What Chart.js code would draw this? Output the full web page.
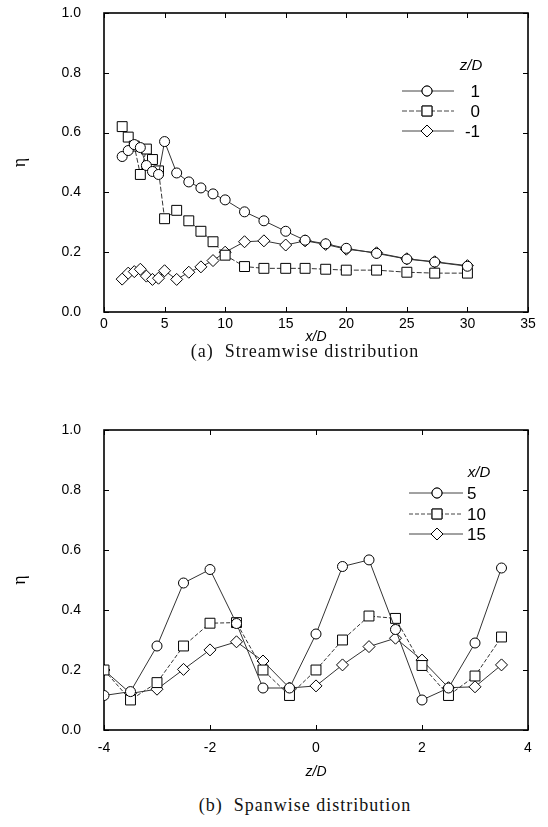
<!DOCTYPE html>
<html><head><meta charset="utf-8">
<script src="https://cdn.jsdelivr.net/npm/chart.js@4.4.1/dist/chart.umd.min.js"></script>
<style>
body{margin:0;background:#fff;width:548px;height:827px;position:relative;overflow:hidden}
#c1{position:absolute;left:0;top:0}
#c2{position:absolute;left:0;top:415px}
.cap{position:absolute;left:0;width:610px;text-align:center;font-family:'Liberation Serif','Times New Roman',serif;font-size:18px;letter-spacing:1px;color:#111;line-height:20px;white-space:pre}
</style></head><body>
<canvas id="c1" width="548" height="350"></canvas>
<div class="cap" style="top:341px">(a)  Streamwise distribution</div>
<canvas id="c2" width="548" height="370"></canvas>
<div class="cap" style="top:795px">(b)  Spanwise distribution</div>
<script>
// ---------- data: (a) streamwise ----------
const xD = [1.5, 2, 2.5, 3, 3.5, 4, 4.5, 5, 6, 7, 8, 9, 10, 11.6, 13.2, 15, 16.6, 18.3, 20, 22.5, 25, 27.3, 30];
const etaZ1  = [0.52, 0.54, 0.56, 0.55, 0.49, 0.47, 0.46, 0.57, 0.465, 0.435, 0.415, 0.395, 0.375, 0.335, 0.305, 0.27, 0.24, 0.228, 0.213, 0.196, 0.177, 0.167, 0.153];
const etaZ0  = [0.62, 0.585, 0.555, 0.46, 0.545, 0.51, 0.472, 0.312, 0.34, 0.305, 0.27, 0.235, 0.19, 0.152, 0.146, 0.146, 0.146, 0.143, 0.14, 0.14, 0.133, 0.13, 0.13];
const etaZm1 = [0.11, 0.13, 0.135, 0.143, 0.12, 0.109, 0.113, 0.138, 0.109, 0.133, 0.151, 0.172, 0.2, 0.235, 0.238, 0.224, 0.238, 0.226, 0.21, 0.198, 0.178, 0.168, 0.155];
const seriesA = ['1', '0', '-1'];
const xTicksA = [0, 5, 10, 15, 20, 25, 30, 35];
const xTickLabelsA = ['0', '5', '10', '15', '20', '25', '30', '35'];

// ---------- data: (b) spanwise ----------
const zD = [-4, -3.5, -3, -2.5, -2, -1.5, -1, -0.5, 0, 0.5, 1, 1.5, 2, 2.5, 3, 3.5];
const etaX5  = [0.115, 0.128, 0.28, 0.49, 0.535, 0.355, 0.14, 0.14, 0.32, 0.545, 0.567, 0.335, 0.10, 0.14, 0.29, 0.54];
const etaX10 = [0.2, 0.1, 0.158, 0.28, 0.356, 0.358, 0.2, 0.115, 0.2, 0.3, 0.38, 0.372, 0.215, 0.115, 0.18, 0.31];
const etaX15 = [0.2, 0.122, 0.136, 0.202, 0.267, 0.294, 0.23, 0.14, 0.147, 0.217, 0.278, 0.306, 0.233, 0.141, 0.144, 0.217];
const seriesB = ['5', '10', '15'];
const xTicksB = [-4, -2, 0, 2, 4];
const xTickLabelsB = ['-4', '-2', '0', '2', '4'];

const yTicks = [0, 0.2, 0.4, 0.6, 0.8, 1.0];
const yTickLabels = ['0.0', '0.2', '0.4', '0.6', '0.8', '1.0'];

const TICKFONT = {family: "'Liberation Sans', Arial, sans-serif", size: 14};
const AXFONT = {family: "'Liberation Sans', Arial, sans-serif", size: 14, style: 'italic'};

function ds(label, xs, ys, style, r, dash) {
  return {
    label, data: xs.map((x, i) => ({x, y: ys[i]})),
    pointStyle: style, pointRadius: r, pointHoverRadius: r,
    pointBackgroundColor: '#fff', pointBorderColor: '#000', pointBorderWidth: 1,
    borderColor: '#333', borderWidth: 1, borderDash: dash, fill: false, tension: 0
  };
}

const framePlugin = {
  id: 'frame',
  beforeDatasetsDraw(chart) {
    const {ctx, chartArea: a, scales} = chart;
    ctx.save();
    ctx.strokeStyle = '#000';
    ctx.lineWidth = 1.6;
    ctx.strokeRect(a.left, a.top, a.right - a.left, a.bottom - a.top);
    ctx.lineWidth = 1;
    const L = 5;
    ctx.beginPath();
    scales.x.ticks.forEach(t => {
      const p = Math.round(scales.x.getPixelForValue(t.value)) + 0.5;
      ctx.moveTo(p, a.bottom); ctx.lineTo(p, a.bottom - L);
      ctx.moveTo(p, a.top); ctx.lineTo(p, a.top + L);
    });
    scales.y.ticks.forEach(t => {
      const p = Math.round(scales.y.getPixelForValue(t.value)) + 0.5;
      ctx.moveTo(a.left, p); ctx.lineTo(a.left + L, p);
      ctx.moveTo(a.right, p); ctx.lineTo(a.right - L, p);
    });
    ctx.stroke();
    ctx.restore();
  }
};

const legendPlugin = {
  id: 'boxLegend',
  afterDraw(chart, args, o) {
    const {ctx} = chart;
    ctx.save();
    ctx.fillStyle = '#000';
    ctx.font = "italic 15px 'Liberation Sans', Arial, sans-serif";
    ctx.textAlign = 'center'; ctx.textBaseline = 'middle';
    ctx.fillText(o.title, o.titleX, o.titleY);
    ctx.font = "17px 'Liberation Sans', Arial, sans-serif";
    chart.data.datasets.forEach((d, i) => {
      const y = o.ys[i];
      ctx.strokeStyle = '#444'; ctx.lineWidth = 1;
      ctx.setLineDash(d.borderDash || []);
      ctx.beginPath(); ctx.moveTo(o.x0, y); ctx.lineTo(o.x1, y); ctx.stroke();
      ctx.setLineDash([]);
      ctx.fillStyle = '#fff'; ctx.strokeStyle = '#000';
      Chart.helpers.drawPoint(ctx, {pointStyle: d.pointStyle, radius: d.pointRadius, borderWidth: 1}, o.mx, y);
      ctx.fill(); ctx.stroke();
      ctx.fillStyle = '#000';
      ctx.textAlign = o.align;
      ctx.fillText(d.label, o.lx, y + 1);
    });
    ctx.restore();
  }
};

function makeChart(id, datasets, xmin, xmax, xt, xtl, xTitle, xAxisH, tickPad, padTop, legend) {
  return new Chart(document.getElementById(id), {
    type: 'line',
    data: {datasets},
    options: {
      responsive: false, animation: false,
      layout: {padding: {top: padTop, right: 20, left: 5, bottom: 0}},
      plugins: {legend: {display: false}, tooltip: {enabled: false}, boxLegend: legend},
      scales: {
        x: {
          type: 'linear', min: xmin, max: xmax,
          afterBuildTicks: s => { s.ticks = xt.map(v => ({value: v})); },
          afterFit: s => { s.height = xAxisH; },
          grid: {display: false, drawTicks: false},
          border: {display: false},
          ticks: {font: TICKFONT, color: '#000', padding: tickPad, maxRotation: 0,
                  callback: (v, i) => xtl[i]},
          title: {display: true, text: xTitle, font: AXFONT, color: '#000', padding: 4}
        },
        y: {
          min: 0, max: 1,
          afterBuildTicks: s => { s.ticks = yTicks.map(v => ({value: v})); },
          afterFit: s => { s.width = 99; s.paddingTop = 0; s.paddingBottom = 0; },
          grid: {display: false, drawTicks: false},
          border: {display: false},
          ticks: {font: TICKFONT, color: '#000', padding: 23, callback: (v, i) => yTickLabels[i]},
          title: {display: true, text: 'η', font: {family: "'Liberation Serif', serif", size: 18}, color: '#000', padding: 4}
        }
      }
    },
    plugins: [framePlugin, legendPlugin]
  });
}

makeChart('c1', [
  ds(seriesA[0], xD, etaZ1, 'circle', 5, []),
  ds(seriesA[1], xD, etaZ0, 'rect', 7, [5, 2]),
  ds(seriesA[2], xD, etaZm1, 'rectRot', 6, [])
], 0, 35, xTicksA, xTickLabelsA, 'x/D', 38, 4, 13,
  {title: 'z/D', titleX: 471, titleY: 66, ys: [91, 111, 131], x0: 402, x1: 454, mx: 427, lx: 480, align: 'right'});

makeChart('c2', [
  ds(seriesB[0], zD, etaX5, 'circle', 5, []),
  ds(seriesB[1], zD, etaX10, 'rect', 7, [4, 2]),
  ds(seriesB[2], zD, etaX15, 'rectRot', 6, [])
], -4, 4, xTicksB, xTickLabelsB, 'z/D', 55, 10, 15,
  {title: 'x/D', titleX: 479, titleY: 58, ys: [78, 99, 119], x0: 409, x1: 463, mx: 437, lx: 467, align: 'left'});
</script>
</body></html>
